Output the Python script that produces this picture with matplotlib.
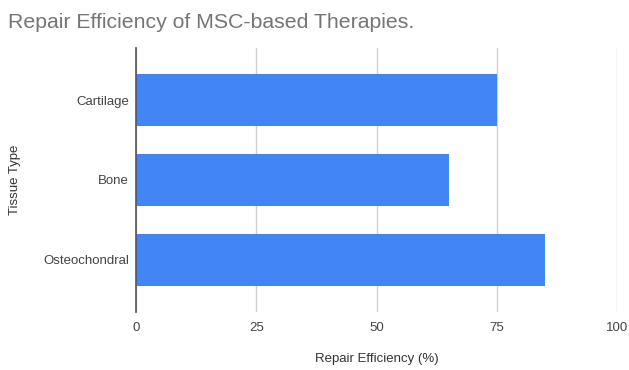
import matplotlib.pyplot as plt

plt.rcParams['font.family'] = ['Liberation Sans', 'DejaVu Sans']

tissues = ["Cartilage", "Bone", "Osteochondral"]
efficiency = [75, 65, 85]
x_ticks = [0, 25, 50, 75, 100]

fig = plt.figure(figsize=(6.29, 3.70), dpi=100)
ax = fig.add_axes([136 / 629, 58 / 370, 481 / 629, 264 / 370])

ypos = list(range(len(tissues)))
ax.barh(ypos, efficiency, height=0.64, color="#4285f4", zorder=3)

ax.set_xlim(0, 100)
ax.set_ylim(len(tissues) - 0.35, -0.65)
ax.set_xticks(x_ticks)
ax.set_xticklabels([str(t) for t in x_ticks])
ax.set_yticks(ypos)
ax.set_yticklabels(tissues)

ax.grid(axis="x", color="#d0d0d0", linewidth=1, zorder=0)
for s in ["top", "right", "bottom"]:
    ax.spines[s].set_visible(False)
ax.spines["left"].set_color("#555555")
ax.spines["left"].set_linewidth(1.2)
ax.spines["left"].set_zorder(4)
ax.tick_params(length=0, labelsize=9.5, labelcolor="#444444")
ax.tick_params(axis="x", pad=7)
ax.tick_params(axis="y", pad=5)

ax.set_xlabel("Repair Efficiency (%)", fontsize=9.5, color="#333333", labelpad=14)
ax.set_ylabel("Tissue Type", fontsize=9.5, color="#333333", labelpad=16)

fig.text(8 / 629, 1 - 22 / 370, "Repair Efficiency of MSC-based Therapies.",
         fontsize=15.3, color="#757575", ha="left", va="center")

fig.savefig("out.png", dpi=100, facecolor="white")
